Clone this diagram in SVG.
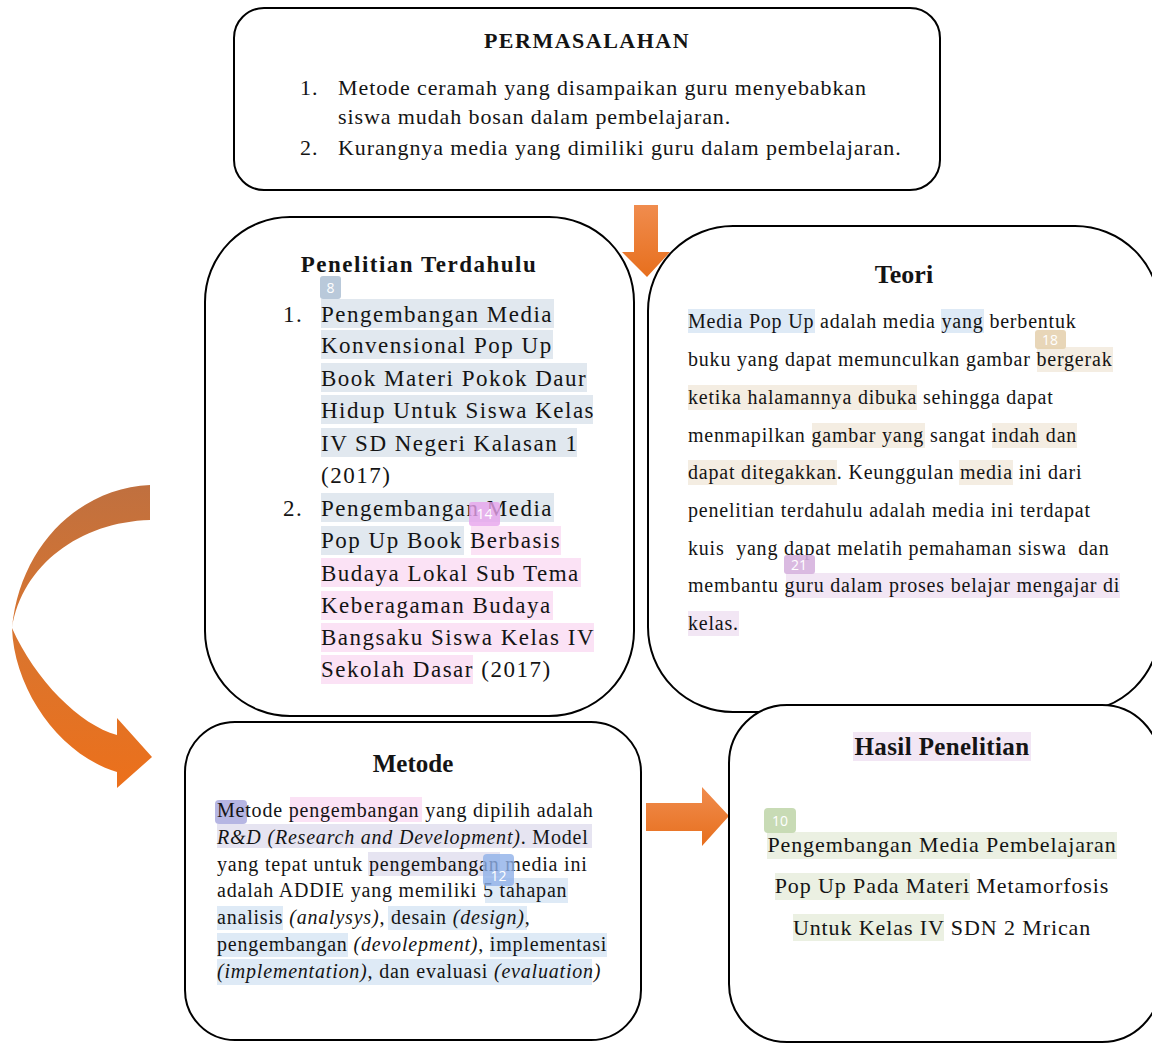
<svg xmlns="http://www.w3.org/2000/svg" width="1152" height="1043" viewBox="0 0 1152 1043">
<defs>
<linearGradient id="gCurve" x1="0" y1="0" x2="0" y2="1">
<stop offset="0" stop-color="#C0703F"/>
<stop offset="0.5" stop-color="#D9752F"/>
<stop offset="1" stop-color="#EC701B"/>
</linearGradient>
<linearGradient id="gArrow" x1="0" y1="0" x2="0" y2="1">
<stop offset="0" stop-color="#F08C4E"/>
<stop offset="1" stop-color="#E76F1D"/>
</linearGradient>
<style>
.box{fill:#fff;stroke:#000;stroke-width:2}
.t{font-family:"Liberation Serif","Times New Roman",serif;fill:#141414}
.title{font-weight:bold;text-anchor:middle}
.top{font-size:22px;letter-spacing:0.9px}
.pen{font-size:23px;letter-spacing:1.5px}
.body{font-size:20px;letter-spacing:0.8px}
.has{font-size:22px;letter-spacing:0.9px;text-anchor:middle}
.i{font-style:italic}
.tag{font-family:"Open Sans","Liberation Sans",sans-serif;font-size:14px;fill:#fff;text-anchor:middle}
.hgray{fill:#E1E8EF}
.hpink{fill:#FBE2F5}
.hblue{fill:#DEEAF6}
.hbeige{fill:#F4EDE2}
.hlav{fill:#F2E6F4}
.hlav2{fill:#E6E4F1}
.hgreen{fill:#EBF0E2}
.arrow{fill:url(#gArrow)}
</style>
</defs>
<g id="connectors">
<path id="arrow-curve" fill="url(#gCurve)" d="M150,485 C80,488 20,545 12,628 C14,690 60,755 117,772 L117,788 L152,757 L117,718 L117,735 C80,725 35,680 12,628 C22,565 80,522 150,520 Z"/>
<path id="arrow-down" class="arrow" d="M634,205 L658,205 L658,252 L670,252 L647,277 L622,252 L634,252 Z"/>
<path id="arrow-right" class="arrow" d="M646,803 L702,803 L702,787 L729,816 L702,846 L702,831 L646,831 Z"/>
</g>
<g id="permasalahan">
<rect class="box" x="234" y="8" width="706" height="182" rx="30"/>
<text class="t title" x="587" y="48" font-size="22" letter-spacing="1.5">PERMASALAHAN</text>
<text class="t top" x="300" y="95">1.</text>
<text class="t top" x="338" y="95">Metode ceramah yang disampaikan guru menyebabkan</text>
<text class="t top" x="338" y="124">siswa mudah bosan dalam pembelajaran.</text>
<text class="t top" x="300" y="155">2.</text>
<text class="t top" x="338" y="155">Kurangnya media yang dimiliki guru dalam pembelajaran.</text>
</g>
<g id="teori">
<rect class="box" x="648" y="226" width="512" height="486" rx="85"/>
<rect class="hblue" x="688" y="309" width="127" height="24"/>
<rect class="hblue" x="941" y="309" width="43" height="24"/>
<rect class="hbeige" x="1037" y="347" width="76" height="25"/>
<rect class="hbeige" x="688" y="385" width="229" height="25"/>
<rect class="hbeige" x="812" y="423" width="113" height="25"/>
<rect class="hbeige" x="992" y="423" width="85" height="25"/>
<rect class="hbeige" x="688" y="460" width="149" height="25"/>
<rect class="hbeige" x="959" y="460" width="54" height="25"/>
<rect class="hlav" x="786" y="573" width="334" height="25"/>
<rect class="hlav" x="688" y="611" width="51" height="25"/>
<text class="t title" x="904" y="283" font-size="26">Teori</text>
<text class="t body" x="688" y="328">Media Pop Up adalah media yang berbentuk</text>
<text class="t body" x="688" y="366">buku yang dapat memunculkan gambar bergerak</text>
<text class="t body" x="688" y="404">ketika halamannya dibuka sehingga dapat</text>
<text class="t body" x="688" y="442">menmapilkan gambar yang sangat indah dan</text>
<text class="t body" x="688" y="479">dapat ditegakkan. Keunggulan media ini dari</text>
<text class="t body" x="688" y="517">penelitian terdahulu adalah media ini terdapat</text>
<text class="t body" x="688" y="555" xml:space="preserve">kuis  yang dapat melatih pemahaman siswa  dan</text>
<text class="t body" x="688" y="592">membantu guru dalam proses belajar mengajar di</text>
<text class="t body" x="688" y="630">kelas.</text>
<rect x="1035" y="330" width="31" height="19" rx="3" fill="#E6D2B0" opacity="0.9"/>
<text class="tag" x="1050" y="345">18</text>
<rect x="784" y="555" width="31" height="19" rx="3" fill="#D6B2DE" opacity="0.9"/>
<text class="tag" x="799" y="570">21</text>
</g>
<g id="penelitian-terdahulu">
<rect class="box" x="205" y="217" width="429" height="499" rx="85"/>
<rect class="hgray" x="321" y="299" width="233" height="29"/>
<rect class="hgray" x="321" y="330" width="232" height="29"/>
<rect class="hgray" x="321" y="363" width="266" height="29"/>
<rect class="hgray" x="321" y="395" width="272" height="29"/>
<rect class="hgray" x="321" y="428" width="256" height="29"/>
<rect class="hgray" x="321" y="493" width="233" height="29"/>
<rect class="hgray" x="321" y="526" width="143" height="29"/>
<rect class="hpink" x="471" y="526" width="90" height="29"/>
<rect class="hpink" x="321" y="558" width="260" height="29"/>
<rect class="hpink" x="321" y="591" width="232" height="29"/>
<rect class="hpink" x="321" y="623" width="273" height="29"/>
<rect class="hpink" x="321" y="655" width="152" height="29"/>
<text class="t title" x="419" y="272" font-size="23" letter-spacing="1.5">Penelitian Terdahulu</text>
<rect x="320" y="276" width="21" height="23" rx="3" fill="#B9C9DA"/>
<text class="tag" x="330.5" y="293">8</text>
<text class="t pen" x="283" y="322">1.</text>
<text class="t pen" x="321" y="322">Pengembangan Media</text>
<text class="t pen" x="321" y="353">Konvensional Pop Up</text>
<text class="t pen" x="321" y="386">Book Materi Pokok Daur</text>
<text class="t pen" x="321" y="418">Hidup Untuk Siswa Kelas</text>
<text class="t pen" x="321" y="451">IV SD Negeri Kalasan 1</text>
<text class="t pen" x="321" y="483">(2017)</text>
<text class="t pen" x="283" y="516">2.</text>
<text class="t pen" x="321" y="516">Pengembangan Media</text>
<text class="t pen" x="321" y="548">Pop Up Book Berbasis</text>
<text class="t pen" x="321" y="581">Budaya Lokal Sub Tema</text>
<text class="t pen" x="321" y="613">Keberagaman Budaya</text>
<text class="t pen" x="321" y="645">Bangsaku Siswa Kelas IV</text>
<text class="t pen" x="321" y="677">Sekolah Dasar (2017)</text>
<rect x="469" y="502" width="31" height="24" rx="3" fill="#E7A2EC" opacity="0.8"/>
<text class="tag" x="484.5" y="519">14</text>
</g>
<g id="metode">
<rect class="box" x="185" y="722" width="456" height="318" rx="50"/>
<rect class="hpink" x="290" y="797" width="132" height="25"/>
<rect class="hlav2" x="217" y="824" width="375" height="24"/>
<rect class="hlav2" x="368" y="852" width="132" height="24"/>
<rect class="hblue" x="485" y="878" width="83" height="25"/>
<rect class="hblue" x="217" y="906" width="66" height="24"/>
<rect class="hblue" x="388" y="906" width="139" height="24"/>
<rect class="hblue" x="217" y="933" width="131" height="24"/>
<rect class="hblue" x="490" y="933" width="117" height="24"/>
<rect class="hblue" x="217" y="959" width="375" height="26"/>
<rect x="215" y="800" width="32" height="24" rx="4" fill="#A9A9DE" opacity="0.85"/>
<text class="t title" x="413" y="772" font-size="25">Metode</text>
<text class="t body" x="217" y="817">Metode pengembangan yang dipilih adalah</text>
<text class="t body" x="217" y="844"><tspan class="i">R&amp;D (Research and Development)</tspan>. Model</text>
<text class="t body" x="217" y="871">yang tepat untuk pengembangan media ini</text>
<text class="t body" x="217" y="897">adalah ADDIE yang memiliki 5 tahapan</text>
<text class="t body" x="217" y="924">analisis <tspan class="i">(analysys)</tspan>, desain <tspan class="i">(design)</tspan>,</text>
<text class="t body" x="217" y="951">pengembangan <tspan class="i">(devolepment)</tspan>, implementasi</text>
<text class="t body" x="217" y="978"><tspan class="i">(implementation)</tspan>, dan evaluasi <tspan class="i">(evaluation)</tspan></text>
<rect x="483" y="854" width="31" height="32" rx="4" fill="#8FB0E8" opacity="0.8"/>
<text class="tag" x="498.5" y="881">12</text>
</g>
<g id="hasil-penelitian">
<rect class="box" x="729" y="705" width="431" height="337" rx="58"/>
<rect class="hlav" x="853" y="732" width="178" height="29"/>
<rect class="hgreen" x="767" y="832" width="350" height="27"/>
<rect class="hgreen" x="775" y="873" width="195" height="27"/>
<rect class="hgreen" x="793" y="914" width="151" height="27"/>
<text class="t title" x="942" y="755" font-size="25" letter-spacing="0.4">Hasil Penelitian</text>
<rect x="764" y="808" width="32" height="25" rx="4" fill="#C8DBB5"/>
<text class="tag" x="780" y="826">10</text>
<text class="t has" x="942" y="852">Pengembangan Media Pembelajaran</text>
<text class="t has" x="942" y="893">Pop Up Pada Materi Metamorfosis</text>
<text class="t has" x="942" y="935">Untuk Kelas IV SDN 2 Mrican</text>
</g>
</svg>
